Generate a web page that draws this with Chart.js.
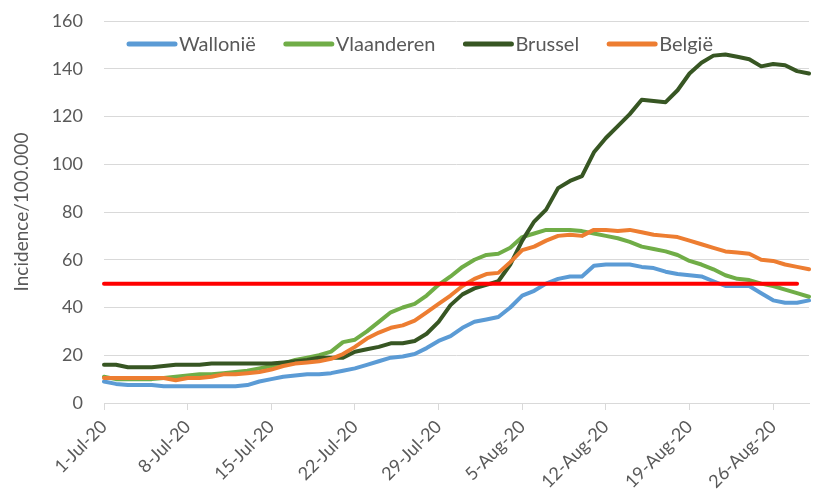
<!DOCTYPE html>
<html>
<head>
<meta charset="utf-8">
<script src="https://cdn.jsdelivr.net/npm/chart.js@4"></script>
<style>
  html, body { margin: 0; padding: 0; background: #fff; }
  #wrap { width: 814px; height: 496px; position: relative; }
</style>
</head>
<body>
<div id="wrap"><canvas id="incChart"></canvas></div>
<script>
// Data
const dates = [
  '1-Jul-20', '2-Jul-20', '3-Jul-20', '4-Jul-20', '5-Jul-20', '6-Jul-20', '7-Jul-20', '8-Jul-20', '9-Jul-20', '10-Jul-20',
  '11-Jul-20', '12-Jul-20', '13-Jul-20', '14-Jul-20', '15-Jul-20', '16-Jul-20', '17-Jul-20', '18-Jul-20', '19-Jul-20', '20-Jul-20',
  '21-Jul-20', '22-Jul-20', '23-Jul-20', '24-Jul-20', '25-Jul-20', '26-Jul-20', '27-Jul-20', '28-Jul-20', '29-Jul-20', '30-Jul-20',
  '31-Jul-20', '1-Aug-20', '2-Aug-20', '3-Aug-20', '4-Aug-20', '5-Aug-20', '6-Aug-20', '7-Aug-20', '8-Aug-20', '9-Aug-20',
  '10-Aug-20', '11-Aug-20', '12-Aug-20', '13-Aug-20', '14-Aug-20', '15-Aug-20', '16-Aug-20', '17-Aug-20', '18-Aug-20', '19-Aug-20',
  '20-Aug-20', '21-Aug-20', '22-Aug-20', '23-Aug-20', '24-Aug-20', '25-Aug-20', '26-Aug-20', '27-Aug-20', '28-Aug-20', '29-Aug-20'
];
const tickLabels = ['1-Jul-20', '8-Jul-20', '15-Jul-20', '22-Jul-20', '29-Jul-20', '5-Aug-20', '12-Aug-20', '19-Aug-20', '26-Aug-20'];

const wallonie = [9, 8, 7.5, 7.5, 7.5, 7, 7, 7, 7, 7, 7, 7, 7.5, 9, 10, 11, 11.5, 12, 12, 12.5,
  13.5, 14.5, 16, 17.5, 19, 19.5, 20.5, 23, 26, 28, 31.5, 34, 35, 36, 40, 45, 47, 50, 52, 53,
  53, 57.5, 58, 58, 58, 57, 56.5, 55, 54, 53.5, 53, 51, 49, 49, 49, 46, 43, 42, 42, 43];
const vlaanderen = [11, 10, 10, 10, 10, 10.5, 11, 11.5, 12, 12, 12.5, 13, 13.5, 14.5, 15.5, 16.5, 18, 19, 20, 21.5,
  25.5, 26.5, 30, 34, 38, 40, 41.5, 45, 49.5, 53, 57, 60, 62, 62.5, 65, 69.5, 71, 72.5, 72.5, 72.5,
  72, 71, 70, 69, 67.5, 65.5, 64.5, 63.5, 62, 59.5, 58, 56, 53.5, 52, 51.5, 50, 49, 47.5, 46, 44.5];
const brussel = [16, 16, 15, 15, 15, 15.5, 16, 16, 16, 16.5, 16.5, 16.5, 16.5, 16.5, 16.5, 17, 17.5, 18, 19, 19,
  19, 21.5, 22.5, 23.5, 25, 25, 26, 29, 34, 41, 45.5, 48, 49.5, 51, 58, 68, 76, 81, 90, 93,
  95, 105, 111, 116, 121, 127, 126.5, 126, 131, 138, 142.5, 145.5, 146, 145, 144, 141, 142, 141.5, 139, 138];
const belgie = [10.5, 10.5, 10.5, 10.5, 10.5, 10.5, 9.5, 10.5, 10.5, 11, 12, 12, 12.5, 13, 14, 15.5, 16.5, 17, 17.5, 18.5,
  20.5, 23.5, 27, 29.5, 31.5, 32.5, 34.5, 38, 41.5, 45, 49, 52, 54, 54.5, 59, 64, 65.5, 68, 70, 70.5,
  70, 72.5, 72.5, 72, 72.5, 71.5, 70.5, 70, 69.5, 68, 66.5, 65, 63.5, 63, 62.5, 60, 59.5, 58, 57, 56];

const threshold = 50;
const thresholdEnd = '28-Aug-20';
const thresholdLine = dates.map((d, i) => i <= dates.indexOf(thresholdEnd) ? threshold : null);

const textColor = '#595959';
const gridColor = '#d9d9d9';
const fontFamily = 'Lato, "Open Sans", sans-serif';

// legend drawn inside the plot area, like the Excel original
const insideLegend = {
  id: 'insideLegend',
  afterDatasetsDraw(chart) {
    const ctx = chart.ctx;
    let x = 127;
    const y = 44;
    ctx.save();
    ctx.font = '20px ' + fontFamily;
    ctx.textBaseline = 'middle';
    chart.data.datasets.filter(ds => ds.label).forEach(ds => {
      ctx.strokeStyle = ds.borderColor;
      ctx.lineWidth = 5;
      ctx.lineCap = 'round';
      ctx.beginPath();
      ctx.moveTo(x + 2, y);
      ctx.lineTo(x + 48, y);
      ctx.stroke();
      ctx.fillStyle = textColor;
      ctx.fillText(ds.label, x + 52, y + 1);
      x += 52 + ctx.measureText(ds.label).width + 28;
    });
    ctx.restore();
  }
};

function line(label, data, color, order) {
  return {
    label: label, data: data, borderColor: color, backgroundColor: color,
    borderWidth: 4, pointRadius: 0, tension: 0, order: order,
    borderJoinStyle: 'round', borderCapStyle: 'round', spanGaps: false
  };
}

const chart = new Chart(document.getElementById('incChart'), {
  type: 'line',
  data: {
    labels: dates,
    datasets: [
      line('Wallonië', wallonie, '#5b9bd5', 4),
      line('Vlaanderen', vlaanderen, '#70ad47', 3),
      line('Brussel', brussel, '#375623', 2),
      line('België', belgie, '#ed7d31', 1),
      line('', thresholdLine, '#ff0000', 0)
    ]
  },
  options: {
    responsive: true,
    maintainAspectRatio: false,
    animation: false,
    layout: { padding: { top: 21, right: 5, left: 0, bottom: 0 } },
    plugins: { legend: { display: false }, tooltip: { enabled: false } },
    scales: {
      x: {
        offset: false,
        grid: { drawOnChartArea: false, drawTicks: true, tickLength: 7, color: gridColor },
        border: { display: true, color: gridColor, width: 1 },
        ticks: {
          autoSkip: false, minRotation: 45, maxRotation: 45, padding: 6,
          color: textColor, font: { family: fontFamily, size: 18 },
          callback: function (v) {
            const lab = this.getLabelForValue(v);
            return tickLabels.includes(lab) ? lab : null;
          }
        },
        afterFit: s => { s.height = 93; }
      },
      y: {
        min: 0, max: 160,
        grid: { color: gridColor, drawTicks: false },
        border: { display: false },
        ticks: { stepSize: 20, padding: 21, color: textColor, font: { family: fontFamily, size: 18 } },
        title: { display: true, text: 'Incidence/100.000', color: textColor, font: { family: fontFamily, size: 19 }, padding: { top: 10, bottom: 0 } },
        afterFit: s => { s.width = 104; s.paddingTop = 0; s.paddingBottom = 0; }
      }
    }
  },
  plugins: [insideLegend]
});
</script>
</body>
</html>
